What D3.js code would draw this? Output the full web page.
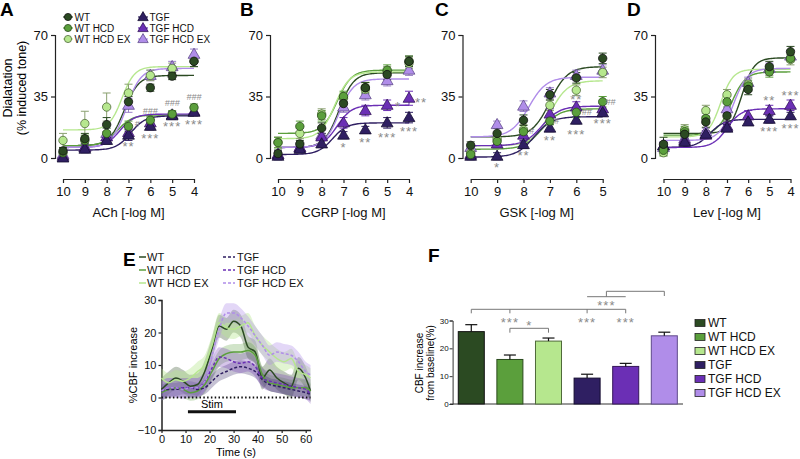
<!DOCTYPE html>
<html><head><meta charset="utf-8">
<script src="https://cdn.jsdelivr.net/npm/d3@7"></script>
<style>
body{margin:0;background:#fff;}
svg{font-family:"Liberation Sans",Arial,sans-serif;}
</style></head><body>
<svg id="chart" width="800" height="459"></svg>
<script>
// ---------- shared ----------
const groups = ["WT","WT HCD","WT HCD EX","TGF","TGF HCD","TGF HCD EX"];
const colors = ["#2b4a22","#5b9f3c","#b6e78e","#2f1f62","#6b2fb5","#b08de9"];
const edge   = ["#111","#2a4a1c","#4f6a3a","#140c30","#35175a","#5f4a8a"];
const shapes = ["circle","circle","circle","triangle","triangle","triangle"];

// ---------- A: ACh ----------
const doseACh = [10,9,8,7,6,5,4];
const achMean = [
 [4,11,19,32,40,46.6,55],
 [3,10,14,18,21.5,25,28.7],
 [10,19.6,29,37,47,51,55],
 [0,5,10,13,18,24,26],
 [1,6,12,14.5,20,24.5,26.5],
 [2,6,14,30,47,52,59]];
const achSem = [[2,3,4,3,2,2,3],[2,3,3,3,2,2,2],[4,7,8,5,3,3,3],[2,2,2,3,2,2,2],[2,2,2,2,2,2,2],[2,2,3,4,3,3,3]];
const achFit = [[7,47,7.2,1.3],[7,24.5,7.5,1.3],[16,52,7.3,1.5],[4.5,24,6.9,1.3],[6,25,7.4,1.3],[6,51,7.1,1.3]];
const achNotes = [[7,8.2,"**"],[6,12.4,"***"],[5,19.2,"***"],[4,20.5,"***"],[6,27,"###"],[5,31.4,"###"],[4,35,"###"],[6.6,19.5,"#"]];

// ---------- B: CGRP ----------
const doseCGRP = [10,9,8,7,6,5,4];
const cgrpMean = [
 [2.5,8,17,31,40,47.5,55],
 [8.7,18,24,35,40,50,55],
 [9,14,25,34,39,49,54],
 [1,5,8,13,16,20,23],
 [2,6,12,20,27,30,34],
 [2,6,13,29,36,44,50]];
const cgrpSem = [[2,2,3,3,3,3,3],[3,3,3,3,3,3,3],[3,3,3,3,3,3,3],[2,2,2,2,2,3,3],[2,2,2,3,3,3,4],[2,2,3,3,3,3,3]];
const cgrpFit = [[6,48.5,7.2,1.3],[14,50,7.3,1.3],[11,49,7.4,1.3],[2,20,7.5,1.3],[6,30,7.3,1.3],[6,45,7.2,1.3]];
const cgrpNotes = [[7,7.2,"*"],[6,10,"**"],[5,13,"***"],[4,16.7,"***"],[4.5,30.6,"*"],[3.45,33,"**"]];

// ---------- C: GSK ----------
const doseGSK = [10,9,8,7,6,5];
const gskMean = [
 [7.2,14,21.5,36,45.6,56.7],
 [2,9.5,15,21,26,32],
 [3,11,16,30,38.6,48.7],
 [1,1,7.6,17,21.5,25.7],
 [2,8,13,25,29,28],
 [6,19,29.5,37,47,50]];
const gskSem = [[2,3,3,3,3,3],[2,2,2,2,3,3],[2,2,3,3,3,3],[2,2,2,2,2,2],[2,2,3,3,3,3],[2,2,3,3,3,3]];
const gskFit = [[12,52,7.0,1.3],[5,28,7.3,1.3],[7,44,7.0,1.3],[0.5,23.5,7.6,1.3],[7,29.5,7.3,1.3],[12,46,7.8,1.3]];
const gskNotes = [[9,-4.2,"*"],[8,2.9,"**"],[7,11.6,"**"],[6,14.8,"***"],[5,21,"***"],[6,34.8,"**"],[4.7,32,"##"],[5.6,26,"##"],[6.75,21,"#"],[7.7,15.4,"#"]];

// ---------- D: Lev ----------
const doseLev = [10,9,8,7,6,5,4];
const levMean = [
 [7.8,13.5,20.5,24,39,52,60.5],
 [4.4,15,22.5,32,41,49,56.7],
 [3,16,27,36,42,50,56],
 [7,9,13.5,17,20.5,22,24],
 [7,10,13,18,24,27,30],
 [6,11,15,28,43,51,58]];
const levSem = [[4,3,3,3,3,3,3],[3,3,3,3,3,3,2],[2,3,3,3,3,3,3],[2,2,2,2,2,2,2],[2,2,2,2,3,3,3],[2,2,2,3,3,3,3]];
const levFit = [[14,57,6.3,1.5],[13,49,6.8,1.3],[12,50.5,7.3,1.5],[6,22,7.8,1.3],[6,28,7.0,1.3],[10,51,6.7,1.3]];
const levNotes = [[5,34,"**"],[4,37,"***"],[5,16.4,"***"],[4,18.2,"***"]];

// ---------- E: CBF time course ----------
const cbfTime = [0,3,6,9,12,15,18,21,24,27,30,33,36,39,42,45,48,51,54,57,60,62];
const cbfMean = [
 [2.5,4.5,6,5,3.5,4,8,15,22,21,23.5,22,15.5,14,6,8.5,6,4.5,3.5,9,6,2],
 [1.5,2.5,3,2.5,1.5,2,4,8,12,13.5,14,14,14.5,13,7,4.5,4,3.5,3,3,3,2],
 [6,4.5,5.5,5,6,8,10,16,23,21.5,21,22,23,19,16,14,12,11,12,8,7,6],
 [2,2.5,2.5,3,3,2.5,3,5,7,8,9,9.5,9,8,5.5,4,3.5,3,2.5,2,1.5,1],
 [2,3,3,3,3,3,5,9,12.5,12,11,10.5,11,9.5,6,5,4.5,4,3.5,3,2.5,1],
 [2,3,3,2.5,3,3,5,13,21,26,26,24.5,22,19,16,13,14,13.5,13,11,8,7]];
const cbfSem = [3.5,2.5,3,2,3,3];
const stimWindow = [11,31];

// ---------- F: CBF bars ----------
const cbfBar = [26,16,22.6,9.3,13.5,24.5];
const cbfBarSem = [2.5,1.6,1.1,1.4,1.1,1.3];

// =====================================================
const svg = d3.select("#chart");
const grey = "#8a8a8a";

function marker(g, shape, x, y, i, sz) {
  if (shape === "circle") {
    g.append("circle").attr("cx",x).attr("cy",y).attr("r",sz||4.2)
     .attr("fill",colors[i]).attr("stroke",edge[i]).attr("stroke-width",0.8);
  } else {
    g.append("path").attr("d",d3.symbol(d3.symbolTriangle, sz? sz*sz*3.6 : 60)())
     .attr("transform",`translate(${x},${y+0.6})`)
     .attr("fill",colors[i]).attr("stroke",edge[i]).attr("stroke-width",0.8);
  }
}

function dosePanel(cfg) {
  const g = svg.append("g");
  const x = d3.scaleLinear().domain(cfg.domain).range([cfg.x0, cfg.x1]);
  const y = d3.scaleLinear().domain([0,70]).range([158,35]);
  const ya = g.append("g").attr("transform",`translate(${cfg.yAxisX},0)`)
    .call(d3.axisLeft(y).tickValues([0,35,70]).tickSize(4).tickPadding(3));
  ya.select(".domain").attr("stroke","#222").attr("stroke-width",1.2);
  ya.selectAll("line").attr("stroke","#222").attr("stroke-width",1.2);
  ya.selectAll("text").attr("font-size",13).attr("fill","#111").attr("font-family","Liberation Sans, Arial, sans-serif");
  const xa = g.append("g").attr("transform","translate(0,179)")
    .call(d3.axisBottom(x).tickValues(cfg.doses).tickFormat(d3.format("d")).tickSize(4).tickSizeOuter(0).tickPadding(4));
  xa.select(".domain").attr("stroke","#222").attr("stroke-width",1.2);
  xa.selectAll("line").attr("stroke","#222").attr("stroke-width",1.2);
  xa.selectAll("text").attr("font-size",13).attr("fill","#111").attr("font-family","Liberation Sans, Arial, sans-serif");
  g.append("text").attr("x",(cfg.x0+cfg.x1)/2).attr("y",217).attr("text-anchor","middle")
    .attr("font-size",13).attr("fill","#111").text(cfg.title);
  svg.append("text").attr("x",cfg.letterX).attr("y",16).attr("font-size",19).attr("font-weight","bold").text(cfg.letter);

  const line = d3.line().x(d=>x(d[0])).y(d=>y(d[1]));
  const xs = d3.range(0,101).map(k=>cfg.domain[0]+(cfg.domain[1]-cfg.domain[0])*k/100);
  cfg.fit.forEach((p,i)=>{
    const pts = xs.map(v=>[v, p[0]+(p[1]-p[0])/(1+Math.pow(10,(v-p[2])*p[3]))]);
    g.append("path").attr("d",line(pts)).attr("fill","none").attr("stroke",colors[i]).attr("stroke-width",1.4);
  });
  const order = [5,4,3,2,1,0];
  order.forEach(i=>{
    cfg.mean[i].forEach((m,j)=>{
      const cx = x(cfg.doses[j]), top = y(m+cfg.sem[i][j]), bot = y(m-cfg.sem[i][j]);
      const ec = i===2? "#8aa070" : (i===5? "#9a80c8" : colors[i]);
      g.append("line").attr("x1",cx).attr("x2",cx).attr("y1",top).attr("y2",bot).attr("stroke",ec).attr("stroke-width",1);
      g.append("line").attr("x1",cx-4).attr("x2",cx+4).attr("y1",top).attr("y2",top).attr("stroke",ec).attr("stroke-width",1);
      g.append("line").attr("x1",cx-4).attr("x2",cx+4).attr("y1",bot).attr("y2",bot).attr("stroke",ec).attr("stroke-width",1);
    });
  });
  order.forEach(i=>{
    cfg.mean[i].forEach((m,j)=>marker(g, shapes[i], x(cfg.doses[j]), y(m), i));
  });
  cfg.notes.forEach(n=>{
    const isHash = n[2][0]==="#";
    g.append("text").attr("x",x(n[0])).attr("y",y(n[1]) + (isHash? 3 : 7))
      .attr("text-anchor","middle").attr("fill",grey)
      .attr("font-size", isHash? 9 : 13).attr("letter-spacing", isHash? 0 : 1)
      .attr("font-style", isHash? "italic":"normal")
      .text(n[2]);
  });
}

dosePanel({letter:"A",letterX:0,title:"ACh [-log M]",domain:[10,4],doses:doseACh,yAxisX:55,x0:63,x1:194,mean:achMean,sem:achSem,fit:achFit,notes:achNotes});
dosePanel({letter:"B",letterX:240,title:"CGRP [-log M]",domain:[10,4],doses:doseCGRP,yAxisX:270,x0:278,x1:409,mean:cgrpMean,sem:cgrpSem,fit:cgrpFit,notes:cgrpNotes});
dosePanel({letter:"C",letterX:435,title:"GSK [-log M]",domain:[10,5],doses:doseGSK,yAxisX:462.5,x0:470.7,x1:602.7,mean:gskMean,sem:gskSem,fit:gskFit,notes:gskNotes});
dosePanel({letter:"D",letterX:627,title:"Lev [-log M]",domain:[10,4],doses:doseLev,yAxisX:655,x0:663.5,x1:790.5,mean:levMean,sem:levSem,fit:levFit,notes:levNotes});

svg.append("text").attr("transform","translate(12,88) rotate(-90)").attr("text-anchor","middle").attr("font-size",12.5).text("Dialatation");
svg.append("text").attr("transform","translate(26,88) rotate(-90)").attr("text-anchor","middle").attr("font-size",12.5).text("(% induced tone)");

// Legend A
groups.forEach((gname,i)=>{
  const col = i<3?0:1, row = i%3;
  const mx = col===0? 68 : 143, cy = 17 + row*11;
  svg.append("line").attr("x1",mx-5).attr("x2",mx+5).attr("y1",cy).attr("y2",cy).attr("stroke",colors[i]).attr("stroke-width",1.2);
  marker(svg, shapes[i], mx, cy, i, 3.6);
  svg.append("text").attr("x",mx+6.5).attr("y",cy+3.6).attr("font-size",10).attr("fill","#111").text(gname);
});

// =================== E ===================
(function(){
  const g = svg.append("g");
  const x = d3.scaleLinear().domain([0,62]).range([161.5,310.5]);
  const y = d3.scaleLinear().domain([-10,30]).range([430,300]);
  const ya = g.append("g").attr("transform","translate(161.5,0)")
    .call(d3.axisLeft(y).tickValues([-10,0,10,20,30]).tickSize(3).tickPadding(2));
  const xa = g.append("g").attr("transform","translate(0,430)")
    .call(d3.axisBottom(x).tickValues([0,10,20,30,40,50,60]).tickSize(3).tickSizeOuter(0).tickPadding(2));
  [ya,xa].forEach(a=>{
    a.select(".domain").attr("stroke","#222").attr("stroke-width",1.5);
    a.selectAll("line").attr("stroke","#222").attr("stroke-width",1.2);
    a.selectAll("text").attr("font-size",11).attr("fill","#111").attr("font-family","Liberation Sans, Arial, sans-serif");
  });
  g.append("text").attr("x",236).attr("y",456).attr("text-anchor","middle").attr("font-size",11).text("Time (s)");
  g.append("text").attr("transform","translate(137,365) rotate(-90)").attr("text-anchor","middle").attr("font-size",11).text("%CBF increase");
  svg.append("text").attr("x",123).attr("y",266).attr("font-size",19).attr("font-weight","bold").text("E");

  const bandOp = [0.3,0.28,0.4,0.28,0.28,0.35];
  cbfMean.forEach((s,i)=>{
    const area = d3.area().x((d,k)=>x(cbfTime[k])).y0(d=>y(d-cbfSem[i])).y1(d=>y(d+cbfSem[i])).curve(d3.curveMonotoneX);
    g.append("path").attr("d",area(s)).attr("fill",colors[i]).attr("fill-opacity",bandOp[i]);
  });
  const ln = d3.line().x((d,k)=>x(cbfTime[k])).y(d=>y(d)).curve(d3.curveMonotoneX);
  cbfMean.forEach((s,i)=>{
    g.append("path").attr("d",ln(s)).attr("fill","none").attr("stroke",colors[i])
      .attr("stroke-width",1.5).attr("stroke-dasharray", i>=3? "3,2":null);
  });
  g.append("line").attr("x1",x(0)).attr("x2",x(62)).attr("y1",y(0)).attr("y2",y(0))
    .attr("stroke","#111").attr("stroke-width",1.8).attr("stroke-dasharray","1.5,2.3");
  g.append("line").attr("x1",x(stimWindow[0])).attr("x2",x(stimWindow[1])).attr("y1",411.7).attr("y2",411.7)
    .attr("stroke","#111").attr("stroke-width",3);
  g.append("text").attr("x",x((stimWindow[0]+stimWindow[1])/2)).attr("y",408).attr("text-anchor","middle").attr("font-size",11).text("Stim");

  groups.forEach((gname,i)=>{
    const col = i<3?0:1, row=i%3;
    const lx = col===0? 139 : 223, cy = 257 + row*13;
    svg.append("line").attr("x1",lx).attr("x2",lx+ (col===0?7:12)).attr("y1",cy).attr("y2",cy)
      .attr("stroke",colors[i]).attr("stroke-width",1.5).attr("stroke-dasharray", i>=3?"3,2":null);
    svg.append("text").attr("x",lx+(col===0?8:14)).attr("y",cy+4).attr("font-size",11).attr("fill","#111").text(gname);
  });
})();

// =================== F ===================
(function(){
  const g = svg.append("g");
  const x = d3.scaleBand().domain(groups).range([452.6,683]).paddingInner(0.326).paddingOuter(0.147);
  const y = d3.scaleLinear().domain([0,30]).range([404,320.5]);
  const ya = g.append("g").attr("transform","translate(452.6,0)")
    .call(d3.axisLeft(y).tickValues([0,10,20,30]).tickSize(3).tickPadding(1));
  ya.select(".domain").attr("stroke","#333").attr("stroke-width",1);
  ya.selectAll("line").attr("stroke","#333");
  ya.selectAll("text").attr("font-size",8).attr("fill","#111").attr("font-family","Liberation Sans, Arial, sans-serif");
  g.append("line").attr("x1",450).attr("x2",683).attr("y1",404).attr("y2",404).attr("stroke","#333").attr("stroke-width",1);
  g.append("text").attr("transform","translate(423,363) rotate(-90)").attr("text-anchor","middle").attr("font-size",10).text("CBF increase");
  g.append("text").attr("transform","translate(434,363) rotate(-90)").attr("text-anchor","middle").attr("font-size",10).text("from baseline(%)");
  svg.append("text").attr("x",428).attr("y",262).attr("font-size",19).attr("font-weight","bold").text("F");

  groups.forEach((gn,i)=>{
    const bx = x(gn), bw = x.bandwidth();
    g.append("rect").attr("x",bx).attr("y",y(cbfBar[i])).attr("width",bw).attr("height",y(0)-y(cbfBar[i]))
      .attr("fill",colors[i]).attr("stroke",edge[i]).attr("stroke-width",1);
    const cx = bx+bw/2, t = y(cbfBar[i]+cbfBarSem[i]);
    g.append("line").attr("x1",cx).attr("x2",cx).attr("y1",y(cbfBar[i])).attr("y2",t).attr("stroke","#111").attr("stroke-width",1.2);
    g.append("line").attr("x1",cx-6).attr("x2",cx+6).attr("y1",t).attr("y2",t).attr("stroke","#111").attr("stroke-width",1.2);
  });
  const c = gn => x(gn)+x.bandwidth()/2;
  const br = "#777";
  const P = (d)=>g.append("path").attr("d",d).attr("fill","none").attr("stroke",br).attr("stroke-width",1);
  P(`M${c(groups[0])},313.3V309.3H${c(groups[4])}V313.3`);
  P(`M${c(groups[1])},309.3V313.3`);
  P(`M${c(groups[3])},309.3V313.3`);
  P(`M${c(groups[1])},332.7V328.3H${c(groups[2])}V332.7`);
  const mid = (c(groups[3])+c(groups[4]))/2;
  P(`M${c(groups[3])},296.7H${c(groups[4])}`);
  P(`M${mid},296.7V291.3H${c(groups[5])}V296`);
  const star = (xx,yy,t)=>g.append("text").attr("x",xx).attr("y",yy).attr("text-anchor","middle")
     .attr("font-size",13).attr("letter-spacing",1).attr("fill",grey).text(t);
  star(c(groups[1]),327,"***");
  star(c(groups[3]),327,"***");
  star(c(groups[4]),327,"***");
  star((c(groups[1])+c(groups[2]))/2,330,"*");
  star(mid,309.5,"***");

  groups.forEach((gn,i)=>{
    const cy = 323 + i*14;
    svg.append("rect").attr("x",695).attr("y",cy-3.5).attr("width",10).attr("height",7)
      .attr("fill",colors[i]).attr("stroke","#222").attr("stroke-width",0.8);
    svg.append("text").attr("x",708).attr("y",cy+4.3).attr("font-size",12).attr("fill","#111").text(gn);
  });
})();
</script>
</body></html>
